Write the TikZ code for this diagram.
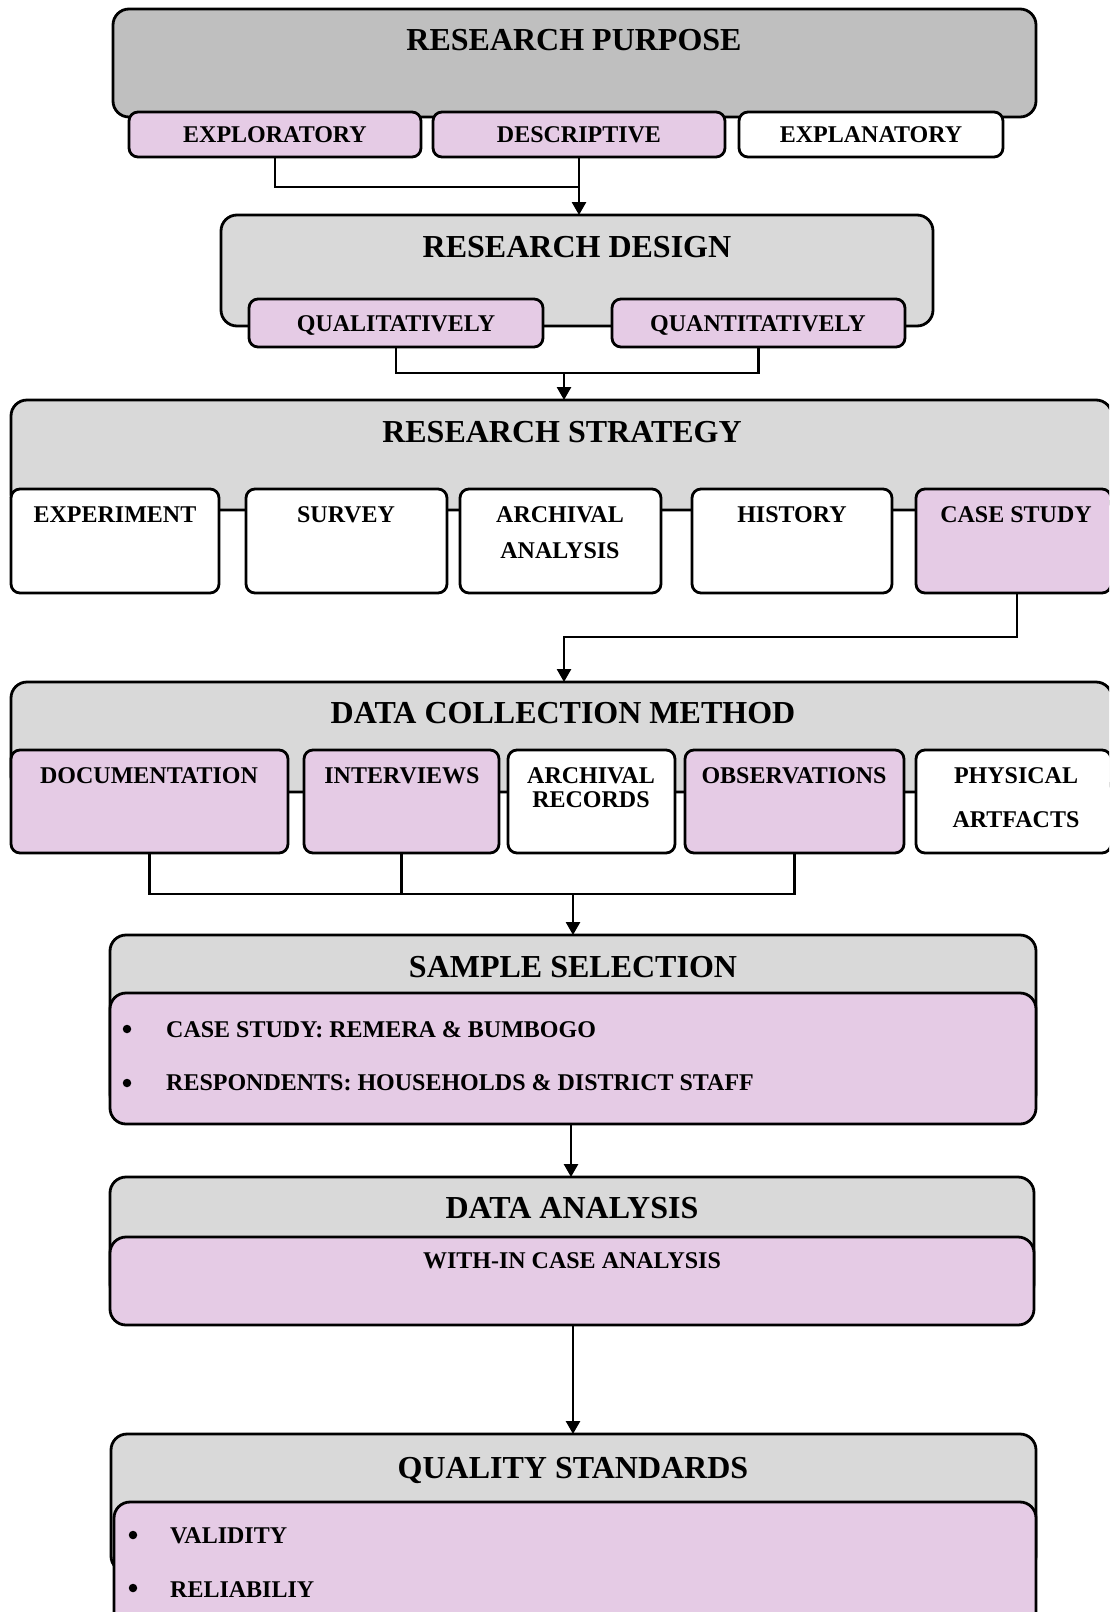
\documentclass[tikz,border=0pt]{standalone}
\usepackage{fontspec}
\setmainfont{Liberation Serif}
\usetikzlibrary{arrows.meta,fit}
\definecolor{greyA}{HTML}{BFBFBF}
\definecolor{greyB}{HTML}{D9D9D9}
\definecolor{pinkA}{HTML}{E5CBE5}
\begin{document}
\begin{tikzpicture}[x=1pt,y=-1pt,
 bigbox/.style={draw, line width=2.8pt, rounded corners=16pt, inner sep=0pt, outer sep=0pt},
 subbox/.style={draw, line width=2.8pt, rounded corners=9pt, inner sep=0pt, outer sep=0pt},
 ttl/.style={font=\fontsize{32}{38}\selectfont\bfseries, inner sep=0pt, anchor=base},
 lbl/.style={font=\fontsize{24}{28}\selectfont\bfseries, inner sep=0pt, anchor=base},
 blt/.style={font=\fontsize{24}{28}\selectfont\bfseries, inner sep=0pt, anchor=base west},
 dot/.style={circle, fill=black, inner sep=0pt, minimum size=8.5pt},
 conn/.style={line width=2.7pt},
 arr/.style={line width=2.7pt, -{Triangle[length=13pt,width=14pt]}}]
\useasboundingbox (0,0) rectangle (1109,1612);
\clip (0,0) rectangle (1109,1612);

% ---------- RESEARCH PURPOSE ----------
\node[bigbox, fill=greyA, fit={(113,9) (1036,117)}] (rp) {};
\node[ttl] (rpT) at (574,50) {RESEARCH PURPOSE};
\node[subbox, fill=pinkA, fit={(129,112) (421,157)}] (exp) {};
\node[subbox, fill=pinkA, fit={(433,112) (725,157)}] (desc) {};
\node[subbox, fill=white, fit={(739,112) (1003,157)}] (expl) {};
\node[lbl] (expT) at (275,142) {EXPLORATORY};
\node[lbl] (descT) at (579,142) {DESCRIPTIVE};
\node[lbl] (explT) at (871,142) {EXPLANATORY};

% ---------- RESEARCH DESIGN ----------
\node[bigbox, fill=greyB, fit={(221,215) (933,326)}] (rd) {};
\node[ttl] (rdT) at (577,257) {RESEARCH DESIGN};
\node[subbox, fill=pinkA, fit={(249,299) (543,347)}] (qual) {};
\node[subbox, fill=pinkA, fit={(612,299) (905,347)}] (quant) {};
\node[lbl] (qualT) at (396,331) {QUALITATIVELY};
\node[lbl] (quantT) at (758,331) {QUANTITATIVELY};

\coordinate (j1) at (579,187);
\draw[conn] (exp.south) |- (j1);
\draw[arr] (desc.south) -- (desc.south |- rd.north);

\coordinate (j2) at (564,373);
\draw[conn] (qual.south) |- (j2) -| (quant.south);

% ---------- RESEARCH STRATEGY ----------
\node[bigbox, fill=greyB, fit={(11,400) (1112,510)}] (rs) {};
\node[ttl] (rsT) at (562,442) {RESEARCH STRATEGY};
\draw[arr] (j2) -- (j2 |- rs.north);
\node[subbox, fill=white, fit={(11,489) (219,593)}] (expr) {};
\node[subbox, fill=white, fit={(246,489) (447,593)}] (surv) {};
\node[subbox, fill=white, fit={(460,489) (661,593)}] (arch) {};
\node[subbox, fill=white, fit={(692,489) (892,593)}] (hist) {};
\node[subbox, fill=pinkA, fit={(916,489) (1111,593)}] (case) {};
\node[lbl] (exprT) at (115,522) {EXPERIMENT};
\node[lbl] (survT) at (346,522) {SURVEY};
\node[lbl] (archT1) at (560,522) {ARCHIVAL};
\node[lbl] (archT2) at (560,558) {ANALYSIS};
\node[lbl] (histT) at (792,522) {HISTORY};
\node[lbl] (caseT) at (1016,522) {CASE STUDY};

% ---------- DATA COLLECTION METHOD ----------
\node[bigbox, fill=greyB, fit={(11,682) (1112,792)}] (dcm) {};
\node[ttl] (dcmT) at (563,723) {DATA COLLECTION METHOD};
\coordinate (j3) at (564,637);
\draw[arr] (case.south -| 1017,0) |- (j3) -- (j3 |- dcm.north);
\node[subbox, fill=pinkA, fit={(11,750) (288,853)}] (doc) {};
\node[subbox, fill=pinkA, fit={(304,750) (499,853)}] (intv) {};
\node[subbox, fill=white, fit={(508,750) (675,853)}] (arcr) {};
\node[subbox, fill=pinkA, fit={(685,750) (904,853)}] (obs) {};
\node[subbox, fill=white, fit={(916,750) (1111,853)}] (phys) {};
\node[lbl] (docT) at (149,783) {DOCUMENTATION};
\node[lbl] (intvT) at (402,783) {INTERVIEWS};
\node[lbl] (arcrT1) at (591,783) {ARCHIVAL};
\node[lbl] (arcrT2) at (591,807) {RECORDS};
\node[lbl] (obsT) at (794,783) {OBSERVATIONS};
\node[lbl] (physT1) at (1016,783) {PHYSICAL};
\node[lbl] (physT2) at (1016,827) {ARTFACTS};

\coordinate (j4) at (573,894);
\draw[conn] (doc.south) |- (j4) -| (obs.south);
\draw[conn] (intv.south) -- (intv.south |- j4);

% ---------- SAMPLE SELECTION ----------
\node[bigbox, fill=greyB, fit={(110,935) (1036,1110)}] (ss) {};
\node[ttl] (ssT) at (573,977) {SAMPLE SELECTION};
\draw[arr] (j4) -- (j4 |- ss.north);
\node[bigbox, fill=pinkA, fit={(110,993) (1036,1124)}] (ssin) {};
\node[dot] (ssb1) at (127,1029) {};
\node[dot] (ssb2) at (127,1083) {};
\node[blt] (ss1) at (166,1037) {CASE STUDY: REMERA \& BUMBOGO};
\node[blt] (ss2) at (166,1090) {RESPONDENTS: HOUSEHOLDS \& DISTRICT STAFF};

% ---------- DATA ANALYSIS ----------
\node[bigbox, fill=greyB, fit={(110,1177) (1034,1300)}] (da) {};
\node[ttl] (daT) at (572,1218) {DATA ANALYSIS};
\draw[arr] (ssin.south -| 571,0) -- (da.north -| 571,0);
\node[bigbox, fill=pinkA, fit={(110,1237) (1034,1325)}] (dain) {};
\node[lbl] (daT2) at (572,1268) {WITH-IN CASE ANALYSIS};

% ---------- QUALITY STANDARDS ----------
\node[bigbox, fill=greyB, fit={(111,1434) (1036,1572)}] (qs) {};
\node[ttl] (qsT) at (573,1478) {QUALITY STANDARDS};
\draw[arr] (dain.south -| 573,0) -- (qs.north -| 573,0);
\node[bigbox, fill=pinkA, fit={(114,1502) (1036,1650)}] (qsin) {};
\node[dot] (qsb1) at (133,1535) {};
\node[dot] (qsb2) at (133,1588) {};
\node[blt] (qs1) at (170,1543) {VALIDITY};
\node[blt] (qs2) at (170,1597) {RELIABILIY};
\end{tikzpicture}
\end{document}
